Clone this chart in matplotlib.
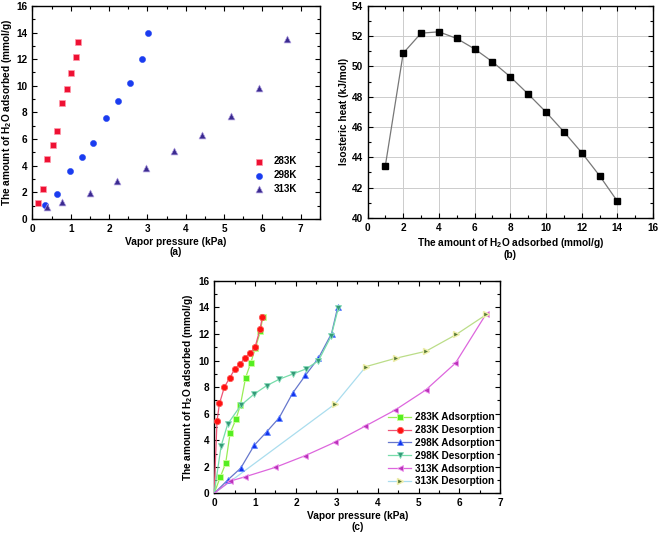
import matplotlib
matplotlib.use('Agg')
import matplotlib.pyplot as plt
from matplotlib.ticker import MultipleLocator

plt.rcParams['font.family'] = 'Liberation Sans'
plt.rcParams['font.weight'] = 'bold'
plt.rcParams['axes.labelweight'] = 'bold'
plt.rcParams['mathtext.fontset'] = 'custom'
plt.rcParams['mathtext.bf'] = 'Liberation Sans:bold'
plt.rcParams['mathtext.rm'] = 'Liberation Sans:bold'

# adsorption isotherms (kPa, mmol/g)
p283 = [0.15, 0.28, 0.39, 0.53, 0.64, 0.77, 0.89, 1.01, 1.13, 1.19]
q283 = [1.23, 2.25, 4.52, 5.57, 6.62, 8.72, 9.78, 10.95, 12.2, 13.28]
p298 = [0.34, 0.65, 0.98, 1.29, 1.59, 1.92, 2.23, 2.55, 2.87, 3.02]
q298 = [1.03, 1.9, 3.62, 4.65, 5.69, 7.55, 8.88, 10.18, 12.03, 14.0]
p313 = [0.39, 0.76, 1.49, 2.22, 2.96, 3.7, 4.43, 5.17, 5.9, 6.65]
q313 = [0.92, 1.25, 1.95, 2.83, 3.86, 5.07, 6.28, 7.77, 9.8, 13.5]

# desorption branches
pd283 = [0.07, 0.13, 0.25, 0.38, 0.5, 0.63, 0.76, 0.88, 1.0, 1.12, 1.18]
qd283 = [5.46, 6.77, 8.0, 8.7, 9.33, 9.76, 10.19, 10.58, 11.0, 12.35, 13.29]
pd298 = [0.17, 0.33, 0.65, 0.98, 1.28, 1.59, 1.92, 2.24, 2.55, 2.86, 3.04]
qd298 = [3.56, 5.21, 6.62, 7.48, 8.1, 8.59, 8.98, 9.36, 9.98, 11.83, 13.98]
pd313 = [2.96, 3.71, 4.44, 5.18, 5.92, 6.66]
qd313 = [6.74, 9.54, 10.17, 10.7, 11.96, 13.47]

# isosteric heat
n_ads = [1, 2, 3, 4, 5, 6, 7, 8, 9, 10, 11, 12, 13, 14]
qst = [43.45, 50.88, 52.2, 52.29, 51.85, 51.16, 50.31, 49.32, 48.18,
       46.99, 45.69, 44.31, 42.79, 41.1]

ylab = 'The amount of H$_\\mathbf{2}$O adsorbed (mmol/g)'
fs = 7.2
lfs = 7.3

fig = plt.figure(figsize=(6.61, 5.38), dpi=100)
ax1 = fig.add_axes([0.049, 0.593, 0.435, 0.396])
ax2 = fig.add_axes([0.556, 0.595, 0.432, 0.394])
ax3 = fig.add_axes([0.324, 0.083, 0.433, 0.395])


def style(ax):
    ax.tick_params(which='both', direction='in', top=True, right=True,
                   labelsize=fs, width=0.8)
    ax.tick_params(which='major', length=3.5)
    ax.tick_params(which='minor', length=2)
    for s in ax.spines.values():
        s.set_linewidth(1.0)
    for lab in ax.get_xticklabels() + ax.get_yticklabels():
        lab.set_fontweight('bold')


# (a)
ax1.scatter(p283, q283, marker='s', s=18, color='#ee1133', edgecolors='#ff99aa',
            linewidths=0.5, label='283K', zorder=3)
ax1.scatter(p298, q298, marker='o', s=20, color='#1a3cf0', edgecolors='#1a3cf0',
            linewidths=0.3, label='298K', zorder=3)
ax1.scatter(p313, q313, marker='^', s=24, color='#3a2a90', edgecolors='#aa99dd',
            linewidths=0.5, label='313K', zorder=3)
ax1.set_xlim(0, 7.5)
ax1.set_ylim(0, 16)
ax1.xaxis.set_major_locator(MultipleLocator(1))
ax1.xaxis.set_minor_locator(MultipleLocator(0.5))
ax1.yaxis.set_major_locator(MultipleLocator(2))
ax1.yaxis.set_minor_locator(MultipleLocator(1))
ax1.set_xlabel('Vapor pressure (kPa)\n(a)', fontsize=lfs, labelpad=2,
               linespacing=1.1)
ax1.set_ylabel(ylab, fontsize=lfs, labelpad=2)
ax1.legend(loc='lower right', bbox_to_anchor=(0.945, 0.085), frameon=False,
           fontsize=7.0, handletextpad=0.5, labelspacing=0.4,
           borderpad=0.2)
style(ax1)

# (b)
ax2.plot(n_ads, qst, color='#777777', lw=0.9, marker='s', ms=4,
         mfc='black', mec='black', zorder=3)
ax2.set_xlim(0, 16)
ax2.set_ylim(40, 54)
ax2.xaxis.set_major_locator(MultipleLocator(2))
ax2.xaxis.set_minor_locator(MultipleLocator(1))
ax2.yaxis.set_major_locator(MultipleLocator(2))
ax2.yaxis.set_minor_locator(MultipleLocator(1))
ax2.grid(True, which='major', color='#cccccc', lw=0.7)
ax2.set_axisbelow(True)
ax2.set_xlabel('The amount of H$_\\mathbf{2}$O adsorbed (mmol/g)\n(b)',
               fontsize=lfs, labelpad=2, linespacing=1.1)
ax2.set_ylabel('Isosteric heat (kJ/mol)', fontsize=lfs, labelpad=2)
style(ax2)

# (c) - every branch starts from the origin, no marker there
def branch(ax, x, y, lc, mk, mc, me, ms, lab):
    ax.plot([0] + x, [0] + y, color=lc, lw=0.9, marker=mk, ms=ms, mfc=mc,
            mec=me, mew=0.6, markevery=list(range(1, len(x) + 1)), label=lab,
            zorder=3)


branch(ax3, p283, q283, '#99ee55', 's', '#55ee22', '#ccff99', 4.2, '283K Adsorption')
branch(ax3, pd283, qd283, '#ee5577', 'o', '#ff1111', '#ff5555', 4.5, '283K Desorption')
branch(ax3, p298, q298, '#6677cc', '^', '#1133ee', '#6688ff', 4.8, '298K Adsorption')
branch(ax3, pd298, qd298, '#77ddaa', 'v', '#339977', '#88ddbb', 4.8, '298K Desorption')
branch(ax3, p313, q313, '#dd66dd', '<', '#bb33bb', '#ee99ee', 4.8, '313K Adsorption')
# 313K desorption: light blue from the origin, yellow-green further on
ax3.plot([0] + pd313[:2], [0] + qd313[:2], color='#aaddee', lw=0.9, zorder=2)
ax3.plot(pd313[1:], qd313[1:], color='#bbdd88', lw=0.9, zorder=2)
ax3.plot(pd313, qd313, ls='none', marker='>', ms=4.8, mfc='#557733',
         mec='#eeeeaa', mew=1.0, zorder=3)
ax3.plot([], [], color='#aaddee', lw=0.9, marker='>', ms=4.8, mfc='#557733',
         mec='#eeeeaa', mew=1.0, label='313K Desorption')
ax3.set_xlim(0, 7)
ax3.set_ylim(0, 16)
ax3.xaxis.set_major_locator(MultipleLocator(1))
ax3.xaxis.set_minor_locator(MultipleLocator(0.5))
ax3.yaxis.set_major_locator(MultipleLocator(2))
ax3.yaxis.set_minor_locator(MultipleLocator(1))
ax3.set_xlabel('Vapor pressure (kPa)\n(c)', fontsize=lfs, labelpad=2,
               linespacing=1.1)
ax3.set_ylabel(ylab, fontsize=lfs, labelpad=2)
ax3.legend(loc='lower right', bbox_to_anchor=(1.005, 0.0), frameon=False,
           fontsize=7.2, handlelength=2.3, handletextpad=0.4,
           labelspacing=0.28, borderpad=0.2)
style(ax3)

fig.savefig('out.png', dpi=100)
